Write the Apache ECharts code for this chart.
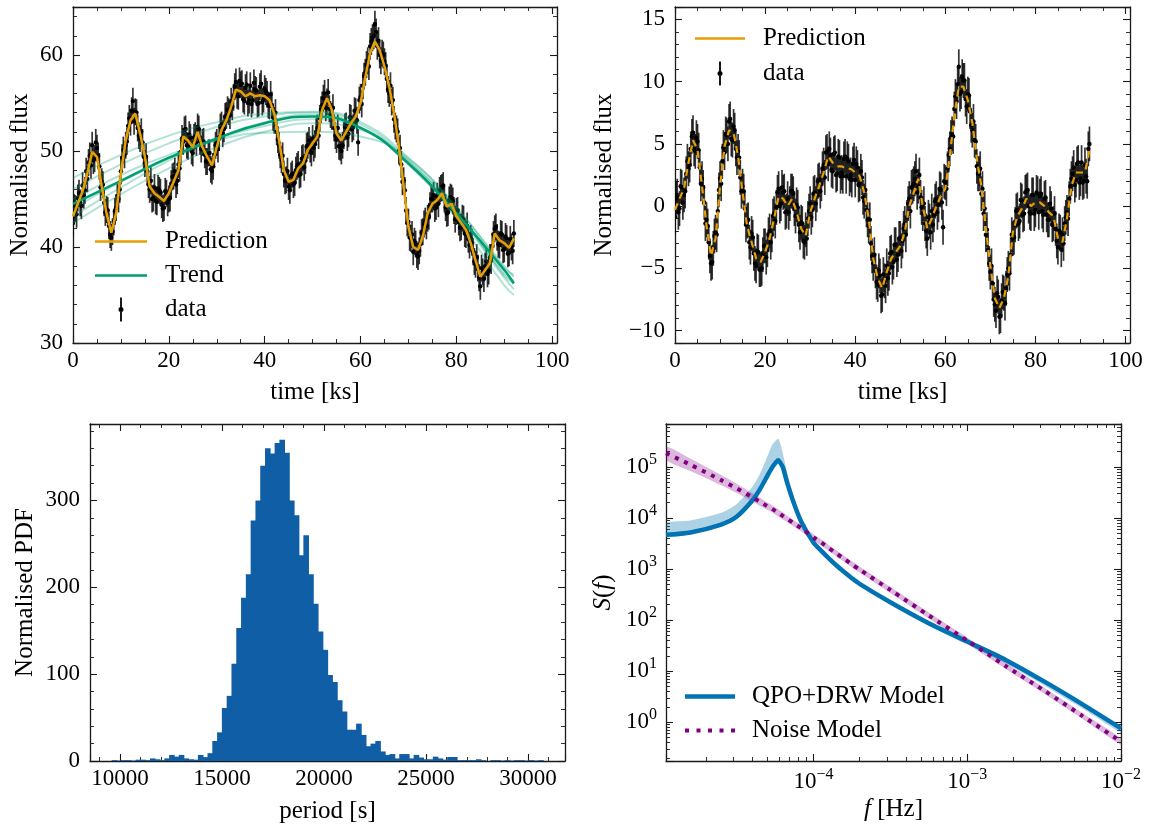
<!DOCTYPE html>
<html>
<head>
<meta charset="utf-8">
<title>QPO light curve and power spectrum</title>
<script src="https://cdn.jsdelivr.net/npm/echarts@6.0.0/dist/echarts.min.js"></script>
<style>
  html, body { margin: 0; padding: 0; background: #fff; }
  #main { width: 1151px; height: 828px; }
</style>
</head>
<body>
<div id="main"></div>
<script>
// ---- data ----
// light curve: two interleaved sample sets, every 0.5 ks, the second one offset by 0.25 ks
var dataStep = 0.5;
var midOffset = 0.25;
var fluxErr = 1.4;
var fluxData = [
  42.5, 44.0, 45.1, 44.6, 46.4, 45.9, 47.1, 49.5, 50.6, 49.2,
  50.3, 48.4, 46.8, 44.6, 43.9, 42.2, 41.0, 42.6, 44.1, 45.0,
  47.9, 50.1, 50.6, 52.6, 53.0, 55.2, 54.1, 52.4, 51.3, 50.9,
  48.7, 47.9, 46.0, 45.0, 46.2, 44.7, 45.9, 44.4, 44.1, 45.6,
  45.0, 46.6, 47.4, 46.5, 48.6, 49.9, 51.0, 52.3, 50.5, 51.4,
  49.8, 51.6, 52.5, 51.0, 50.9, 49.6, 48.9, 49.8, 47.9, 49.6,
  50.9, 51.4, 52.7, 52.3, 53.7, 54.1, 55.2, 55.6, 57.2, 55.7,
  56.9, 55.4, 56.6, 55.0, 56.8, 55.3, 56.4, 54.9, 56.7, 55.1,
  56.5, 55.9, 54.7, 54.8, 53.2, 52.0, 50.6, 49.1, 47.6, 47.0,
  46.3, 47.4, 46.5, 48.0, 48.6, 47.6, 49.3, 49.0, 50.6, 50.2,
  51.3, 50.7, 52.4, 53.4, 54.8, 56.0, 55.1, 54.4, 53.6, 52.4,
  51.2, 50.5, 50.0, 51.6, 52.6, 51.8, 53.4, 52.5, 54.1, 50.9,
  55.6, 56.8, 58.2, 59.4, 60.9, 61.8, 63.2, 60.9, 60.0, 60.2,
  59.3, 57.5, 56.0, 55.1, 53.3, 52.3, 50.0, 48.6, 46.9, 43.8,
  42.6, 40.9, 39.5, 40.3, 39.0, 40.4, 41.6, 42.7, 43.0, 44.3,
  45.0, 44.0, 45.3, 45.9, 46.2, 45.0, 43.5, 44.9, 45.1, 43.8,
  43.7, 42.6, 42.1, 42.9, 41.3, 40.8, 40.9, 39.5, 38.2, 37.8,
  35.9, 37.4, 38.0, 37.2, 38.9, 40.1, 41.9, 41.0, 40.2, 41.3,
  39.8, 40.9, 39.4, 40.0, 41.4
];
var fluxDataMid = [
  44.1, 43.4, 45.6, 44.3, 45.4, 47.9, 48.8, 48.5, 49.0, 50.9,
  49.5, 46.2, 46.5, 43.6, 43.8, 41.3, 41.6, 43.7, 45.3, 46.0,
  49.3, 49.6, 51.0, 53.4, 54.2, 53.1, 54.0, 51.6, 52.0, 49.4,
  49.4, 46.5, 46.9, 45.1, 44.8, 46.1, 45.7, 44.0, 45.8, 44.6,
  45.1, 47.3, 47.9, 46.9, 48.2, 51.3, 52.2, 50.6, 51.7, 50.0,
  51.4, 50.9, 52.3, 50.2, 51.0, 48.9, 49.8, 48.1, 48.4, 50.6,
  50.2, 52.5, 51.8, 53.6, 54.3, 53.7, 54.6, 56.7, 55.8, 57.3,
  57.0, 55.2, 56.9, 55.3, 54.9, 57.1, 56.3, 55.0, 57.0, 55.4,
  56.2, 54.8, 55.9, 53.5, 54.0, 51.2, 49.6, 49.5, 46.9, 47.9,
  45.9, 47.6, 46.7, 48.4, 47.5, 49.2, 48.3, 50.5, 51.1, 49.8,
  50.3, 52.0, 51.6, 54.3, 55.5, 54.5, 56.1, 53.8, 54.5, 51.6,
  52.4, 50.4, 50.6, 52.5, 51.4, 53.5, 52.3, 54.2, 53.2, 55.3,
  54.9, 57.8, 59.0, 58.8, 61.4, 62.0, 62.4, 61.5, 59.4, 60.0,
  58.9, 56.4, 56.8, 55.3, 52.6, 52.0, 50.3, 46.8, 45.9, 42.5,
  41.0, 41.3, 40.6, 39.2, 39.6, 41.5, 42.4, 42.2, 43.2, 45.0,
  45.4, 44.2, 44.5, 46.1, 46.4, 44.1, 43.6, 45.2, 44.8, 42.9,
  43.8, 42.0, 43.0, 41.4, 42.2, 40.2, 40.5, 38.5, 38.9, 36.8,
  37.8, 36.7, 38.5, 37.5, 38.6, 41.3, 42.1, 40.3, 41.4, 39.7,
  41.1, 39.3, 40.8, 39.6
];
// model prediction, every 1 ks
var predStep = 1;
var fluxPred = [
  43.2, 44.5, 45.8, 47.7, 49.9, 49.4, 46.3, 43.5, 41.5, 43.5,
  47.7, 51.1, 53.2, 53.9, 51.8, 49.4, 46.3, 45.6, 45.2, 44.8,
  45.6, 46.8, 48.0, 51.5, 51.1, 50.4, 52.0, 50.4, 49.4, 48.5,
  50.4, 52.2, 53.2, 54.6, 56.4, 56.2, 55.7, 56.0, 55.7, 55.8,
  55.7, 55.3, 53.9, 51.1, 48.0, 46.8, 47.0, 48.2, 48.7, 50.1,
  50.8, 51.5, 54.3, 55.5, 54.3, 51.8, 51.1, 52.0, 52.9, 53.6,
  55.0, 57.7, 60.2, 61.4, 60.5, 58.8, 56.7, 53.9, 50.5, 46.3,
  42.1, 40.0, 39.7, 41.1, 43.5, 44.5, 44.9, 45.6, 44.2, 44.5,
  43.2, 42.5, 41.8, 40.4, 38.6, 36.9, 37.6, 38.3, 41.4, 40.7,
  40.4, 39.9, 40.9
];
// trend: best fit and posterior draws, sampled at trendTime
var trendTime = [0, 10, 20, 30, 40, 50, 60, 70, 80, 90, 92];
var trendMain = [44.5, 46.9, 49.3, 51.3, 52.9, 53.6, 52.4, 48.7, 43.5, 37.6, 36.2];
var trendDraws = [
  [47.2, 49.6, 51.6, 53.0, 53.9, 54.1, 53.0, 49.3, 44.2, 37.8, 37.1],
  [46.0, 48.6, 50.8, 52.5, 53.6, 54.0, 52.8, 49.0, 43.8, 37.0, 36.3],
  [43.2, 46.2, 49.0, 51.3, 53.0, 53.8, 52.5, 48.6, 43.0, 36.0, 35.0],
  [42.5, 45.5, 48.2, 50.4, 52.0, 52.9, 52.2, 48.9, 43.6, 37.2, 36.5],
  [45.0, 47.5, 49.6, 51.1, 51.9, 52.0, 51.5, 49.2, 44.0, 38.0, 36.9],
  [44.0, 46.8, 49.2, 51.2, 52.6, 53.3, 52.4, 48.7, 43.4, 36.8, 35.6]
];
// detrended light curve (same sampling) and its prediction (every 1 ks)
var detrData = [
  -0.9, 0.8, -0.2, 1.5, 0.9, 2.6, 3.0, 4.6, 5.9, 4.4,
  5.2, 3.1, 2.2, 0.3, -1.1, -2.9, -4.6, -3.4, -2.1, -0.4,
  2.2, 3.6, 4.3, 5.7, 6.8, 5.4, 6.4, 4.6, 4.4, 2.3,
  1.6, -0.2, -1.2, -2.9, -2.2, -3.8, -4.8, -3.7, -5.1, -3.9,
  -3.2, -3.5, -2.0, -2.3, -0.6, -0.1, 1.4, 0.2, 1.1, -0.5,
  0.6, 0.2, 1.2, -0.2, 0.1, -1.5, -1.3, -2.8, -1.9, -1.0,
  0.2, -0.3, 1.1, 0.9, 2.1, 1.8, 3.3, 4.3, 3.4, 4.1,
  2.8, 4.3, 2.6, 3.9, 2.7, 3.8, 2.4, 3.6, 2.5, 3.4,
  2.1, 3.1, 1.8, 2.3, 0.4, -0.3, -1.6, -3.0, -4.6, -5.2,
  -6.3, -5.6, -7.1, -6.0, -4.8, -5.4, -3.7, -4.5, -3.1, -3.9,
  -2.6, -2.8, -1.4, -0.9, 0.6, 1.5, 1.8, 2.8, 1.6, 0.7,
  -0.6, -1.4, -2.6, -1.2, -0.4, -0.7, 0.6, 0.1, 1.3, -1.7,
  1.9, 3.0, 4.6, 5.8, 7.8, 8.4, 11.2, 9.2, 10.1, 8.6,
  9.0, 7.6, 6.1, 5.3, 3.2, 2.6, 1.0, -0.6, -2.3, -3.5,
  -5.3, -6.2, -7.9, -7.0, -8.9, -7.6, -7.0, -6.6, -5.0, -3.9,
  -2.6, -1.5, -0.3, -1.2, 0.4, -0.6, 1.2, 0.0, -0.6, 0.9,
  -0.3, 1.0, 0.8, -0.4, 0.6, -0.7, -1.1, -0.2, -1.4, -1.8,
  -3.3, -2.1, -2.3, -1.4, -0.5, 0.6, 2.2, 3.1, 2.1, 3.5,
  2.2, 1.9, 3.3, 2.0, 5.0
];
var detrDataMid = [
  0.6, -0.5, 1.6, 0.3, 1.2, 3.6, 3.3, 5.6, 4.6, 5.5,
  4.5, 1.8, 1.5, -1.4, -1.6, -4.0, -4.5, -2.4, -2.3, 1.3,
  1.8, 4.7, 5.8, 5.0, 7.0, 5.3, 6.1, 3.9, 3.9, 1.2,
  1.2, -1.5, -1.1, -3.3, -2.5, -4.6, -3.6, -5.1, -5.0, -3.2,
  -4.1, -2.3, -2.9, -0.8, -1.2, 1.1, 0.0, 1.5, 1.2, -0.4,
  -0.5, 1.2, 1.0, -0.8, -0.1, -2.1, -1.4, -2.9, -2.6, -0.4,
  -0.9, 1.0, 0.2, 2.0, 1.2, 3.0, 2.3, 4.4, 4.6, 2.9,
  4.2, 2.5, 4.0, 2.4, 2.4, 4.0, 3.8, 2.2, 2.1, 3.7,
  3.4, 1.7, 2.8, 0.7, 1.3, -1.1, -1.1, -4.0, -3.9, -6.1,
  -5.2, -7.2, -5.5, -6.4, -5.8, -3.8, -4.9, -3.1, -4.3, -2.6,
  -3.6, -1.8, -2.3, 0.2, -0.4, 1.6, 2.2, 1.1, 2.5, -0.1,
  0.2, -2.0, -0.9, -2.1, -1.5, 0.4, -0.5, 1.4, 0.3, 2.0,
  1.4, 4.1, 5.5, 5.6, 8.8, 9.8, 9.0, 10.4, 10.1, 8.0,
  8.9, 6.5, 6.8, 5.2, 2.6, 3.0, 1.4, -0.2, -1.9, -4.6,
  -4.8, -7.5, -8.4, -7.3, -8.8, -6.9, -7.8, -5.5, -5.4, -2.3,
  -2.5, -0.4, -1.4, 0.5, -0.7, 1.1, 1.3, -0.5, 0.9, -0.6,
  1.1, -0.5, 1.0, -0.7, 0.7, -1.1, 0.2, -1.5, -0.6, -2.8,
  -2.0, -3.5, -3.0, -0.9, -1.0, 1.6, 2.6, 1.7, 3.4, 1.9,
  3.5, 2.0, 2.4, 4.6
];
var detrPred = [
  -0.3, 0.6, 1.4, 3.5, 5.3, 4.5, 1.6, -1.6, -4.0, -2.6,
  1.6, 4.8, 6.1, 5.9, 4.0, 1.1, -1.6, -2.9, -4.2, -4.5,
  -3.7, -2.6, -1.0, 0.8, 0.6, 0.0, 0.6, -0.5, -1.8, -2.4,
  -0.5, 0.6, 1.6, 2.7, 4.0, 3.5, 3.2, 3.2, 3.0, 3.0,
  2.7, 2.4, 1.1, -1.0, -4.2, -5.8, -6.6, -5.3, -4.2, -3.7,
  -3.2, -2.1, 0.0, 1.1, 2.2, 0.0, -1.8, -1.0, 0.0, 0.8,
  1.4, 4.0, 7.2, 9.6, 9.6, 8.5, 6.7, 3.8, 1.6, -1.8,
  -4.8, -7.4, -8.2, -7.4, -5.6, -2.1, -0.8, -0.2, 0.6, 0.0,
  0.3, 0.3, 0.0, -0.5, -0.8, -2.6, -2.9, -1.0, 1.6, 2.7,
  2.7, 2.7, 4.5
];
// period posterior histogram
var histStart = 9590;
var histBinWidth = 235;
var histCounts = [
  1, 0.5, 1, 1, 0.5, 1.5, 1.5, 1, 3, 2,
  1, 3, 7, 5, 7, 3, 2, 1.5, 7, 4.5,
  9, 23, 33, 61, 75, 112, 153, 188, 215, 277,
  300, 340, 360, 354, 366, 370, 355, 300, 283, 237,
  260, 215, 181, 149, 128, 99, 91, 70, 57, 36,
  36, 43, 30, 17, 20, 23, 11, 7, 8, 3,
  8, 8, 3, 7, 4, 2, 2, 5, 3, 1.5,
  4.6, 4.6, 1, 1, 1, 1, 2, 1, 0, 1,
  1, 0.5, 1, 0.5, 1, 1, 0.5, 1, 0.5, 1
];
// power spectra
var psdFreq = [1.1e-5, 1.585e-5, 2.512e-5, 3.162e-5, 3.981e-5, 4.467e-5, 5.012e-5, 5.370e-5, 5.754e-5, 5.888e-5,
  6.026e-5, 6.310e-5, 6.761e-5, 7.413e-5, 8.318e-5, 1.0e-4, 1.122e-4, 1.259e-4, 1.413e-4, 1.585e-4,
  1.778e-4, 1.995e-4, 3.162e-4, 5.623e-4, 1.0e-3, 1.778e-3, 3.162e-3, 5.623e-3, 1.0e-2];
var qpoMedian = [4.7e3, 5.2e3, 7.4e3, 1.05e4, 2.14e4, 3.55e4, 6.61e4, 9.55e4, 1.26e5, 1.35e5,
  1.26e5, 1.0e5, 4.79e4, 2.04e4, 8.5e3, 3.31e3, 2.29e3, 1.62e3, 1.17e3, 871,
  661, 513, 224, 87, 38, 16.6, 6.3, 2.24, 0.76];
var qpoHigh = [7.9e3, 8.9e3, 1.26e4, 1.86e4, 3.98e4, 7.08e4, 1.58e5, 2.63e5, 3.39e5, 3.55e5,
  3.16e5, 1.91e5, 7.59e4, 2.82e4, 1.0e4, 3.55e3, 2.45e3, 1.74e3, 1.26e3, 933,
  708, 550, 234, 91, 39.8, 17.4, 6.6, 2.34, 0.79];
var qpoLow = [4.27e3, 4.79e3, 6.76e3, 9.55e3, 1.95e4, 3.24e4, 6.03e4, 8.71e4, 1.15e5, 1.23e5,
  1.15e5, 9.12e4, 4.37e4, 1.86e4, 7.76e3, 3.02e3, 2.09e3, 1.48e3, 1.07e3, 794,
  603, 468, 204, 77.6, 33.1, 14.1, 5.25, 1.86, 0.63];
var noiseMedian = [1.86e5, 1.10e5, 5.50e4, 3.80e4, 2.57e4, 2.09e4, 1.70e4, 1.51e4, 1.32e4, 1.26e4,
  1.20e4, 1.10e4, 9.55e3, 7.94e3, 6.31e3, 4.17e3, 3.31e3, 2.57e3, 2.0e3, 1.58e3,
  1.23e3, 977, 389, 123, 39.8, 12.6, 4.17, 1.32, 0.417];
var noiseHigh = [2.51e5, 1.45e5, 6.9e4, 4.68e4, 3.09e4, 2.51e4, 2.0e4, 1.78e4, 1.55e4, 1.48e4,
  1.41e4, 1.29e4, 1.10e4, 9.1e3, 7.2e3, 4.79e3, 3.80e3, 2.95e3, 2.29e3, 1.82e3,
  1.41e3, 1.12e3, 447, 141, 45.7, 14.5, 4.79, 1.51, 0.479];
var noiseLow = [1.38e5, 8.3e4, 4.37e4, 3.09e4, 2.14e4, 1.74e4, 1.45e4, 1.29e4, 1.12e4, 1.07e4,
  1.02e4, 9.3e3, 8.3e3, 6.9e3, 5.5e3, 3.63e3, 2.88e3, 2.24e3, 1.74e3, 1.38e3,
  1.07e3, 851, 339, 107, 34.7, 11.0, 3.63, 1.15, 0.363];

// ---- styling ----
var FONT = '"Liberation Serif", "DejaVu Serif", serif';
var FS = 23;     // tick labels
var FS_T = 25;   // axis titles and legend
var INK = '#000';
var FRAME = '#1a1a1a';
var ORANGE = '#E69F00';
var GREEN = '#009E73';
var HISTBLUE = '#0f5ea6';
var QPOBLUE = '#0173b2';
var PURPLE = '#800080';

var richName = { i: { fontFamily: FONT, fontSize: FS_T, fontStyle: 'italic', color: INK } };
var richPow = {
  b: { fontFamily: FONT, fontSize: FS, color: INK },
  e: { fontFamily: FONT, fontSize: 16, color: INK, padding: [0, 0, 14, 0] }
};

function stepFormatter(step) {
  return function (v) {
    var k = v / step;
    if (Math.abs(k - Math.round(k)) > 1e-6) return '';
    return v < 0 ? '\u2212' + (-v) : String(v);
  };
}

function powFormatter(v) {
  var e = Math.log10(v);
  var r = Math.round(e);
  if (Math.abs(e - r) > 1e-6) return '';
  return '{b|10}{e|' + (r < 0 ? '\u2212' + (-r) : r) + '}';
}

function makeAxis(o) {
  return {
    type: o.type || 'value', gridIndex: o.grid, position: o.pos,
    min: o.min, max: o.max,
    name: o.name || '', nameLocation: 'middle', nameGap: o.nameGap || 0,
    nameTextStyle: { fontFamily: FONT, fontSize: FS_T, color: INK, rich: richName },
    axisLine: { show: true, onZero: false, lineStyle: { color: FRAME, width: 1.3 } },
    axisTick: { show: true, inside: true, length: 7, lineStyle: { color: FRAME, width: 1.1 } },
    minorTick: { show: true, splitNumber: o.minor, length: 4, lineStyle: { color: FRAME, width: 0.9 } },
    axisLabel: { show: !!o.fmt, formatter: o.fmt, margin: o.margin || 8,
      fontFamily: FONT, fontSize: FS, color: INK, rich: richPow },
    splitLine: { show: false },
    minorSplitLine: { show: false }
  };
}

// main axis plus a twin on the opposite side (ticks only), matplotlib style frame
function axisPair(o, twinPos) {
  var twin = makeAxis({ type: o.type, grid: o.grid, pos: twinPos, min: o.min, max: o.max, minor: o.minor });
  return [makeAxis(o), twin];
}

var xAxes = [].concat(
  axisPair({ grid: 0, pos: 'bottom', min: 0, max: 101, minor: 4, fmt: stepFormatter(20), margin: 6, name: 'time [ks]', nameGap: 37 }, 'top'),
  axisPair({ grid: 1, pos: 'bottom', min: 0, max: 101, minor: 4, fmt: stepFormatter(20), margin: 6, name: 'time [ks]', nameGap: 37 }, 'top'),
  axisPair({ grid: 2, pos: 'bottom', min: 8530, max: 31815, minor: 5, fmt: stepFormatter(5000), margin: 6, name: 'period [s]', nameGap: 38 }, 'top'),
  axisPair({ grid: 3, pos: 'bottom', type: 'log', min: 1.1e-5, max: 1e-2, minor: 9, fmt: powFormatter, margin: 6, name: '{i|f} [Hz]', nameGap: 36 }, 'top')
);
var yAxes = [].concat(
  axisPair({ grid: 0, pos: 'left', min: 30, max: 65, minor: 5, fmt: stepFormatter(10), margin: 10, name: 'Normalised flux', nameGap: 40 }, 'right'),
  axisPair({ grid: 1, pos: 'left', min: -11, max: 16, minor: 5, fmt: stepFormatter(5), margin: 10, name: 'Normalised flux', nameGap: 58 }, 'right'),
  axisPair({ grid: 2, pos: 'left', min: 0, max: 388, minor: 5, fmt: stepFormatter(100), margin: 10, name: 'Normalised PDF', nameGap: 52 }, 'right'),
  axisPair({ grid: 3, pos: 'left', type: 'log', min: 0.174, max: 6.9e5, minor: 9, fmt: powFormatter, margin: 9, name: '{i|S}({i|f})', nameGap: 50 }, 'right')
);

// ---- series helpers ----
function stepped(values, step) {
  return values.map(function (v, i) { return [i * step, v]; });
}
function paired(xs, ys) {
  return xs.map(function (x, i) { return [x, ys[i]]; });
}
// both sample sets with their time stamps and error
function withErr(values, midValues, err) {
  var out = [];
  values.forEach(function (v, i) { out.push([i * dataStep, v, err]); });
  midValues.forEach(function (v, i) { out.push([midOffset + i * dataStep, v, err]); });
  return out;
}
function renderErr(params, api) {
  var t = api.value(0), v = api.value(1), e = api.value(2);
  var hi = api.coord([t, v + e]);
  var lo = api.coord([t, v - e]);
  var mid = api.coord([t, v]);
  return {
    type: 'group',
    children: [
      { type: 'line', shape: { x1: hi[0], y1: hi[1], x2: lo[0], y2: lo[1] },
        style: { stroke: 'rgba(0,0,0,0.8)', lineWidth: 1.7 } },
      { type: 'circle', shape: { cx: mid[0], cy: mid[1], r: 2.2 }, style: { fill: '#000' } }
    ]
  };
}
function renderBin(params, api) {
  var p0 = api.coord([api.value(0), 0]);
  var p1 = api.coord([api.value(1), api.value(2)]);
  return {
    type: 'rect',
    shape: { x: p0[0], y: p1[1], width: p1[0] - p0[0] + 0.8, height: p0[1] - p1[1] },
    style: { fill: HISTBLUE }
  };
}
// credible band as one polygon, upper edge then lower edge back
function bandRenderer(lo, hi, fill) {
  return function (params, api) {
    var pts = [];
    for (var i = 0; i < psdFreq.length; i++) pts.push(api.coord([psdFreq[i], hi[i]]));
    for (var j = psdFreq.length - 1; j >= 0; j--) pts.push(api.coord([psdFreq[j], lo[j]]));
    return { type: 'polygon', shape: { points: pts, smooth: 0.25 }, style: { fill: fill } };
  };
}

var series = [];

// top left: light curve with trend
series.push({
  type: 'custom', name: 'data', xAxisIndex: 0, yAxisIndex: 0, clip: true,
  renderItem: renderErr, encode: { x: 0, y: 1 }, itemStyle: { color: '#000' },
  data: withErr(fluxData, fluxDataMid, fluxErr), z: 1
});
trendDraws.forEach(function (d) {
  series.push({
    type: 'line', xAxisIndex: 0, yAxisIndex: 0, data: paired(trendTime, d),
    smooth: 0.5, symbol: 'none', color: GREEN, silent: true,
    lineStyle: { width: 2, opacity: 0.3 }, z: 2
  });
});
series.push({
  type: 'line', name: 'Trend', xAxisIndex: 0, yAxisIndex: 0, data: paired(trendTime, trendMain),
  smooth: 0.5, symbol: 'none', color: GREEN, lineStyle: { width: 2.5 }, z: 3
});
series.push({
  type: 'line', name: 'Prediction', xAxisIndex: 0, yAxisIndex: 0, data: stepped(fluxPred, predStep),
  symbol: 'none', color: ORANGE, lineStyle: { width: 2.5 }, z: 4
});

// top right: detrended light curve
series.push({
  type: 'custom', name: 'data', xAxisIndex: 2, yAxisIndex: 2, clip: true,
  renderItem: renderErr, encode: { x: 0, y: 1 }, itemStyle: { color: '#000' },
  data: withErr(detrData, detrDataMid, fluxErr), z: 1
});
series.push({
  type: 'line', name: 'Prediction', xAxisIndex: 2, yAxisIndex: 2, data: stepped(detrPred, predStep),
  symbol: 'none', color: ORANGE, lineStyle: { width: 2.2, type: [7, 5] }, z: 4
});

// bottom left: histogram of periods
series.push({
  type: 'custom', xAxisIndex: 4, yAxisIndex: 4, clip: true,
  renderItem: renderBin, encode: { x: [0, 1], y: 2 },
  data: histCounts.map(function (c, i) {
    return [histStart + i * histBinWidth, histStart + (i + 1) * histBinWidth, c];
  })
});

// bottom right: power spectra with credible bands
series.push({
  type: 'custom', xAxisIndex: 6, yAxisIndex: 6, clip: true, silent: true, z: 1,
  renderItem: bandRenderer(qpoLow, qpoHigh, 'rgba(1,115,178,0.32)'),
  encode: { x: 0, y: 1 }, data: [[psdFreq[0], qpoMedian[0]]]
});
series.push({
  type: 'custom', xAxisIndex: 6, yAxisIndex: 6, clip: true, silent: true, z: 1,
  renderItem: bandRenderer(noiseLow, noiseHigh, 'rgba(128,0,128,0.28)'),
  encode: { x: 0, y: 1 }, data: [[psdFreq[0], noiseMedian[0]]]
});
series.push({
  type: 'line', name: 'QPO+DRW Model', xAxisIndex: 6, yAxisIndex: 6, data: paired(psdFreq, qpoMedian),
  symbol: 'none', smooth: 0.25, color: QPOBLUE, lineStyle: { width: 4.5 }, z: 3
});
series.push({
  type: 'line', name: 'Noise Model', xAxisIndex: 6, yAxisIndex: 6, data: paired(psdFreq, noiseMedian),
  symbol: 'none', smooth: 0.25, color: PURPLE, lineStyle: { width: 4, type: [4, 6], cap: 'butt' }, z: 4
});

// ---- legend icons (box is itemWidth x 24) ----
function lineIcon(boxW, len, thick) {
  var a = 12 - thick / 2, b = 12 + thick / 2;
  return 'path://M0,0L0,0M' + boxW + ',24L' + boxW + ',24M0,' + a + 'L' + len + ',' + a +
    'L' + len + ',' + b + 'L0,' + b + 'Z';
}
function dotIcon(boxW, n, size, pitch) {
  var p = 'path://M0,0L0,0M' + boxW + ',24L' + boxW + ',24';
  var a = 12 - size / 2;
  for (var k = 0; k < n; k++) {
    var x = k * pitch;
    p += 'M' + x + ',' + a + 'h' + size + 'v' + size + 'h' + (-size) + 'Z';
  }
  return p;
}
function errIcon(boxW, cx) {
  return 'path://M0,0L0,0M' + boxW + ',24L' + boxW + ',24M' + (cx - 0.9) + ',0L' + (cx + 0.9) + ',0L' +
    (cx + 0.9) + ',24L' + (cx - 0.9) + ',24Z' +
    'M' + cx + ',9.5A2.5,2.5 0 1 1 ' + cx + ',14.5A2.5,2.5 0 1 1 ' + cx + ',9.5Z';
}
function legendBox(left, top, w, gap, items) {
  return {
    left: left, top: top, orient: 'vertical', itemWidth: w, itemHeight: 24, itemGap: gap,
    padding: 0, selectedMode: false, data: items,
    itemStyle: { borderWidth: 0 },
    textStyle: { fontFamily: FONT, fontSize: FS_T, color: INK, lineHeight: 24 }
  };
}

var option = {
  animation: false,
  backgroundColor: '#fff',
  grid: [
    { left: 73, top: 7, width: 484, height: 336 },
    { left: 675, top: 7, width: 455, height: 336 },
    { left: 90, top: 424, width: 475, height: 337 },
    { left: 666, top: 424, width: 455, height: 337 }
  ],
  xAxis: xAxes,
  yAxis: yAxes,
  legend: [
    legendBox(95, 229, 65, 9, [
      { name: 'Prediction', icon: lineIcon(65, 52, 2.5) },
      { name: 'Trend', icon: lineIcon(65, 52, 2.5) },
      { name: 'data', icon: errIcon(65, 26) }
    ]),
    legendBox(695, 26, 63, 10, [
      { name: 'Prediction', icon: lineIcon(63, 50, 2.5) },
      { name: 'data', icon: errIcon(63, 25) }
    ]),
    legendBox(685, 684, 62, 9, [
      { name: 'QPO+DRW Model', icon: lineIcon(62, 50, 4.5) },
      { name: 'Noise Model', icon: dotIcon(62, 5, 4, 11.5) }
    ])
  ],
  series: series
};

var chart = echarts.init(document.getElementById('main'));
chart.setOption(option);
</script>
</body>
</html>
